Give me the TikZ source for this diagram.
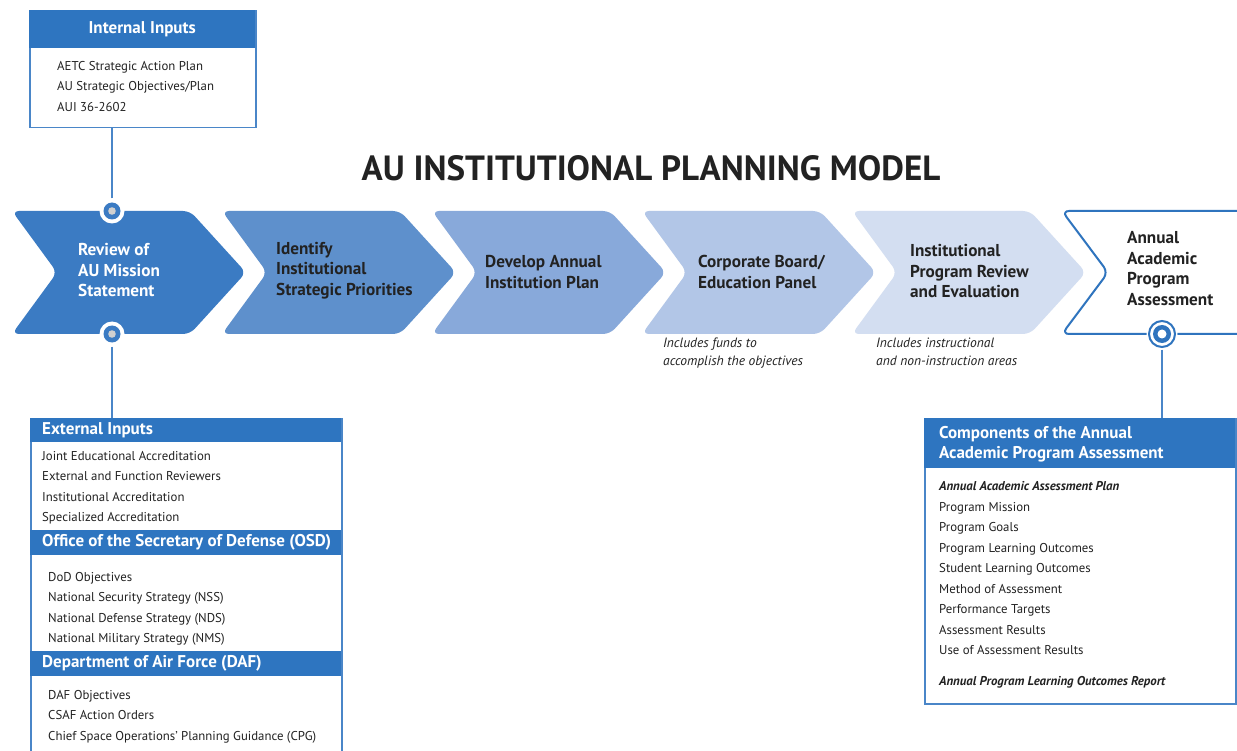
\documentclass[tikz,border=0pt]{standalone}
\usepackage{fontspec}
\setmainfont{PT Sans}
\definecolor{hdr}{HTML}{2E75C0}
\definecolor{bord}{HTML}{4A86C8}
\definecolor{cA}{HTML}{3B7BC3}
\definecolor{cB}{HTML}{5E90CC}
\definecolor{cC}{HTML}{88A9DA}
\definecolor{cD}{HTML}{B2C6E7}
\definecolor{cE}{HTML}{D3DEF1}
\definecolor{outl}{HTML}{2F74BE}
\definecolor{txt}{HTML}{222222}
\definecolor{dot}{HTML}{D0D0D0}
\tikzset{
  box/.style={draw=bord, line width=1.5pt, fill=white, inner sep=0pt, anchor=north west},
  band/.style={fill=hdr, draw=none, inner sep=0pt, anchor=north west},
  bandtxt/.style={text=white, font=\fontsize{17}{20}\selectfont\bfseries, anchor=west, inner sep=0pt},
  items/.style={text=txt, font=\fontsize{12.8}{20.5}\selectfont, align=left, anchor=north west, inner sep=0pt},
  chevtxt/.style={font=\fontsize{17.2}{20.5}\selectfont\bfseries, align=left, anchor=west, inner sep=0pt},
  note/.style={text=txt, font=\fontsize{13.5}{17.5}\selectfont\itshape, align=left, anchor=north west, inner sep=0pt},
  conn/.style={draw=bord, line width=2pt},
  ring/.style={circle, fill=white, inner sep=0pt, minimum size=25pt},
}
\newcommand{\chev}[2]{%
  \fill[#2, rounded corners=7pt] (#1,211) -- ({#1+178},211) -- ({#1+234},272.5) -- ({#1+178},334) -- (#1,334) -- ({#1+45},272.5) -- cycle;}
\begin{document}
\begin{tikzpicture}[x=1pt,y=-1pt]
\useasboundingbox (0,0) rectangle (1237,751);
\fill[white] (0,0) rectangle (1237,751);

% title
\node[font=\fontsize{35}{37}\selectfont\bfseries, text=txt] (title) at (651,168) {AU INSTITUTIONAL PLANNING MODEL};

% chevrons
\chev{12}{cA}
\chev{222}{cB}
\chev{432}{cC}
\chev{642}{cD}
\chev{852}{cE}
\draw[outl, line width=2pt, rounded corners=7pt] (1245,211) -- (1062,211) -- (1108,272.5) -- (1062,334) -- (1245,334);

\node[chevtxt, text=white] (s1) at (78,270.5) {Review of\\AU Mission\\Statement};
\node[chevtxt, text=txt] (s2) at (276,270.5) {Identify\\Institutional\\Strategic Priorities};
\node[chevtxt, text=txt] (s3) at (485,272) {Develop Annual\\Institution Plan};
\node[chevtxt, text=txt] (s4) at (698,272) {Corporate Board/\\Education Panel};
\node[chevtxt, text=txt] (s5) at (910,271.5) {Institutional\\Program Review\\and Evaluation};
\node[chevtxt, text=txt] (s6) at (1127,268.5) {Annual\\Academic\\Program\\Assessment};

\node[note] (n4) at (663,338) {Includes funds to\\accomplish the objectives};
\node[note] (n5) at (876,338) {Includes instructional\\and non-instruction areas};

% internal inputs
\node[box, minimum width=226pt, minimum height=117pt] (int) at (29,10) {};
\node[band, minimum width=226pt, minimum height=38pt] (inth) at (29,10) {};
\node[text=white, font=\fontsize{17}{20}\selectfont\bfseries] (inthT) at (inth.center) {Internal Inputs};
\node[items] (intI) at (57,61) {AETC Strategic Action Plan\\AU Strategic Objectives/Plan\\AUI 36-2602};

% top ring
\node[ring] (r1) at (112,211) {};
\draw[conn] (r1.north) -- (r1.north |- int.south);
\fill[cA] (r1.center) circle (8.5);
\fill[dot] (r1.center) circle (3.8);

% bottom ring
\node[ring] (r2) at (112,334) {};
\fill[cA] (r2.center) circle (8.5);
\fill[dot] (r2.center) circle (3.8);

% external inputs box
\node[box, minimum width=311pt, minimum height=345pt] (ext) at (30,418) {};
\draw[conn] (r2.south) -- (r2.south |- ext.north);
\fill[hdr] (30,418) rectangle (341,442);
\node[bandtxt] (extT) at (42,430.5) {External Inputs};
\node[items] (extI) at (42,451) {Joint Educational Accreditation\\External and Function Reviewers\\Institutional Accreditation\\Specialized Accreditation};
\fill[hdr] (30,530) rectangle (341,555);
\node[bandtxt] (osdT) at (42,542.5) {Office of the Secretary of Defense (OSD)};
\node[items] (osdI) at (48,572) {DoD Objectives\\National Security Strategy (NSS)\\National Defense Strategy (NDS)\\National Military Strategy (NMS)};
\fill[hdr] (30,651) rectangle (341,676);
\node[bandtxt] (dafT) at (42,663.5) {Department of Air Force (DAF)};
\node[items] (dafI) at (48,690) {DAF Objectives\\CSAF Action Orders\\Chief Space Operations’ Planning Guidance (CPG)};

% right ring
\node[ring, minimum size=31pt] (r3) at (1162,334) {};
\draw[outl, line width=2pt] (r3.center) circle (13);
\fill[outl] (r3.center) circle (9);
\fill[white] (r3.center) circle (4.5);

% components box
\node[box, minimum width=311pt, minimum height=285pt] (comp) at (924,418) {};
\draw[conn] (r3.south) -- (r3.south |- comp.north);
\fill[hdr] (924,418) rectangle (1235,468);
\node[text=white, font=\fontsize{17}{20}\selectfont\bfseries, align=left, anchor=west, inner sep=0pt] (compT) at (939,444) {Components of the Annual\\Academic Program Assessment};
\node[items] (compI) at (939,481.5) {\textbf{\textit{Annual Academic Assessment Plan}}\\Program Mission\\Program Goals\\Program Learning Outcomes\\Student Learning Outcomes\\Method of Assessment\\Performance Targets\\Assessment Results\\Use of Assessment Results\\[10.5pt]\textbf{\textit{Annual Program Learning Outcomes Report}}};
\end{tikzpicture}
\end{document}
